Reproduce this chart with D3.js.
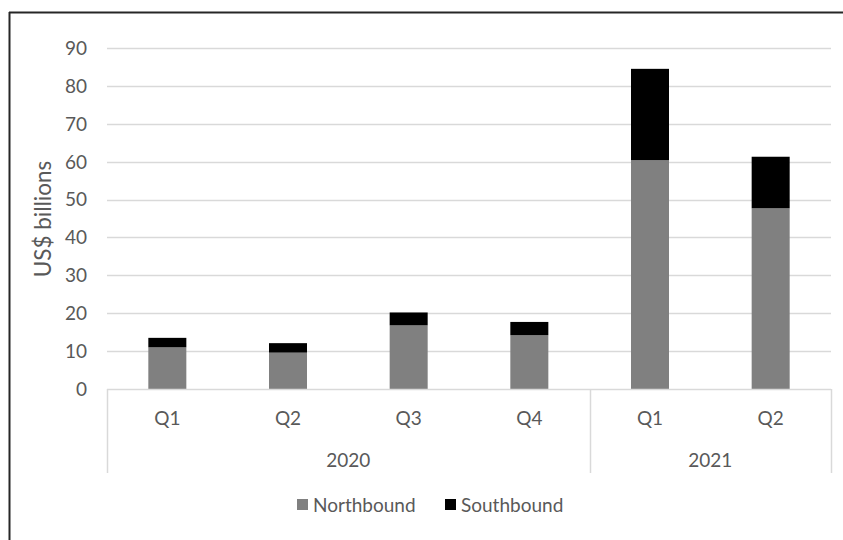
<!DOCTYPE html>
<html><head><meta charset="utf-8">
<script src="https://cdn.jsdelivr.net/npm/d3@7"></script>
<style>body{margin:0;background:#fff}svg{display:block}</style>
</head><body><svg id="c" width="843" height="540"></svg>
<script>
const quarters = ["Q1","Q2","Q3","Q4","Q1","Q2"];
const years = ["2020","2020","2020","2020","2021","2021"];
const northbound = [11.0, 9.6, 16.8, 14.2, 60.4, 47.7];
const southbound = [2.5, 2.5, 3.4, 3.5, 24.1, 13.6];
const yTicks = [0,10,20,30,40,50,60,70,80,90];
const seriesNames = ["Northbound","Southbound"];
const seriesColors = ["#808080","#000000"];

const font = "Lato, 'Open Sans', sans-serif";
const fs = 19;
const txt = "#595959";
const grid = "#d9d9d9";
const svg = d3.select("#c");
const L = 107, R = 831, T = 48, B = 389;

const idx = quarters.map((q,i)=>i);
const x = d3.scaleBand().domain(idx).range([L,R]).paddingInner(0.685).paddingOuter(0.3425);
const y = d3.scaleLinear().domain([0,90]).range([B,T]);

// frame (top & left only)
svg.append("line").attr("x1",9).attr("x2",843).attr("y1",12.5).attr("y2",12.5).attr("stroke","#262626").attr("stroke-width",2);
svg.append("line").attr("x1",9.5).attr("x2",9.5).attr("y1",12).attr("y2",540).attr("stroke","#262626").attr("stroke-width",2);

// gridlines
svg.append("g").selectAll("line").data(yTicks.filter(d=>d>0)).join("line")
  .attr("x1",L).attr("x2",R).attr("y1",d=>Math.round(y(d))+0.5).attr("y2",d=>Math.round(y(d))+0.5)
  .attr("stroke",grid).attr("stroke-width",1.5);

// y tick labels
svg.append("g").selectAll("text").data(yTicks).join("text")
  .attr("x",87).attr("y",d=>y(d)).attr("dy","0.36em").attr("text-anchor","end")
  .attr("font-family",font).attr("font-size",fs).attr("fill",txt).text(d=>d);

// y title
svg.append("text").attr("transform","translate(51,219) rotate(-90)").attr("text-anchor","middle")
  .attr("font-family",font).attr("font-size",22.5).attr("fill",txt).text("US$ billions");

// stacked bars
const stackData = idx.map(i=>({i, Northbound:northbound[i], Southbound:southbound[i]}));
const stack = d3.stack().keys(seriesNames)(stackData);
svg.append("g").selectAll("g").data(stack).join("g").attr("fill",(d,k)=>seriesColors[k])
  .selectAll("rect").data(d=>d).join("rect")
  .attr("x",d=>x(d.data.i)).attr("width",x.bandwidth())
  .attr("y",d=>y(d[1])).attr("height",d=>y(d[0])-y(d[1]));

// category axis
svg.append("line").attr("x1",L).attr("x2",R).attr("y1",B+0.5).attr("y2",B+0.5).attr("stroke",grid).attr("stroke-width",1.5);
const step = x.step();
const yearGroups = d3.groups(idx, i=>years[i]);
const bounds = [L];
yearGroups.forEach(([yr, arr])=>{ bounds.push(L + step*(arr[arr.length-1]+1) ); });
svg.append("g").selectAll("line").data(bounds).join("line")
  .attr("x1",d=>Math.round(d)+0.5).attr("x2",d=>Math.round(d)+0.5).attr("y1",B).attr("y2",473)
  .attr("stroke",grid).attr("stroke-width",1.5);

svg.append("g").selectAll("text").data(idx).join("text")
  .attr("x",i=>x(i)+x.bandwidth()/2).attr("y",418).attr("dy","0.36em").attr("text-anchor","middle")
  .attr("font-family",font).attr("font-size",fs).attr("fill",txt).text(i=>quarters[i]);

svg.append("g").selectAll("text").data(yearGroups).join("text")
  .attr("x",d=>L + step*(d[1][0] + d[1][d[1].length-1] + 1)/2).attr("y",460).attr("dy","0.36em").attr("text-anchor","middle")
  .attr("font-family",font).attr("font-size",fs).attr("fill",txt).text(d=>d[0]);

// legend
const legX = [297, 445];
const lg = svg.append("g").selectAll("g").data(seriesNames).join("g")
  .attr("transform",(d,k)=>`translate(${legX[k]},0)`);
lg.append("rect").attr("x",0).attr("y",499).attr("width",11).attr("height",11).attr("fill",(d,k)=>seriesColors[k]);
lg.append("text").attr("x",16).attr("y",505).attr("dy","0.36em")
  .attr("font-family",font).attr("font-size",fs).attr("fill",txt).text(d=>d);
</script></body></html>
